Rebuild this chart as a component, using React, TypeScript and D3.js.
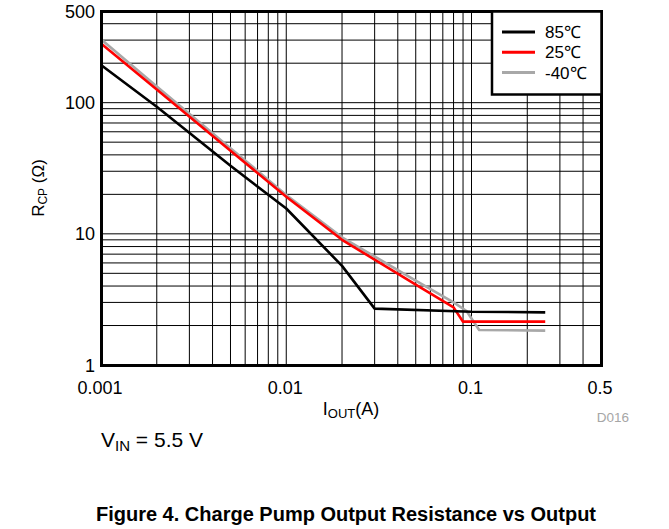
import React, { useEffect } from 'react';
import * as d3 from 'd3';

// 85°C curve
const iOut85 = [0.001, 0.002, 0.005, 0.01, 0.02, 0.03, 0.1, 0.25];
const r85 = [194, 93, 33, 15.6, 5.7, 2.69, 2.55, 2.52];
// 25°C curve
const iOut25 = [0.001, 0.002, 0.005, 0.01, 0.02, 0.05, 0.08, 0.09, 0.25];
const r25 = [283, 126, 43, 19.2, 9.0, 4.1, 2.75, 2.14, 2.14];
// -40°C curve
const iOutM40 = [0.001, 0.002, 0.005, 0.01, 0.02, 0.05, 0.08, 0.094, 0.11, 0.25];
const rM40 = [305, 133, 45, 19.8, 9.4, 4.4, 3.0, 2.58, 1.85, 1.83];

const seriesNames = ['85℃', '25℃', '-40℃'];
const seriesColors = ['#000000', '#ff0000', '#a8a8a8'];
const xTickLabels = [0.001, 0.01, 0.1, 0.5];
const yTickLabels = [1, 10, 100, 500];

const W = 669;
const H = 529;
const plot = { left: 101, right: 601, top: 11, bottom: 365 };
const FONT = 'Liberation Sans, Arial, Helvetica, sans-serif';

export default function App() {
  useEffect(() => {
    document.body.style.margin = '0';
  }, []);

  const x = d3.scaleLog().domain([0.001, 0.5]).range([plot.left, plot.right]);
  const y = d3.scaleLog().domain([1, 500]).range([plot.bottom, plot.top]);

  const xGrid = x.ticks().filter((v) => v > 0.001 && v < 0.5);
  const yGrid = y.ticks().filter((v) => v > 1 && v < 500);

  const line = d3
    .line<[number, number]>()
    .x((d) => x(d[0]))
    .y((d) => y(d[1]));

  const series = [
    d3.zip(iOut85, r85) as [number, number][],
    d3.zip(iOut25, r25) as [number, number][],
    d3.zip(iOutM40, rM40) as [number, number][],
  ];

  const fmt = (v: number) => String(v);

  return (
    <svg width={W} height={H} style={{ display: 'block', background: '#fff' }}>
      {/* grid */}
      <g stroke="#000" strokeWidth={1}>
        {xGrid.map((v) => (
          <line key={'gx' + v} x1={x(v)} x2={x(v)} y1={plot.top} y2={plot.bottom} />
        ))}
        {yGrid.map((v) => (
          <line key={'gy' + v} x1={plot.left} x2={plot.right} y1={y(v)} y2={y(v)} />
        ))}
      </g>

      {/* curves: gray first so red and black sit on top */}
      {[2, 1, 0].map((i) => (
        <path
          key={'s' + i}
          d={line(series[i]) || ''}
          fill="none"
          stroke={seriesColors[i]}
          strokeWidth={2.6}
          strokeLinejoin="round"
        />
      ))}

      {/* frame */}
      <rect
        x={plot.left + 0.5}
        y={plot.top + 0.5}
        width={plot.right - plot.left}
        height={plot.bottom - plot.top}
        fill="none"
        stroke="#000"
        strokeWidth={3}
      />

      {/* legend */}
      <rect x={492} y={plot.top + 0.5} width={plot.right - 491.5} height={83} fill="#fff" stroke="#000" strokeWidth={2.5} />
      {seriesNames.map((name, i) => (
        <g key={name}>
          <line x1={502} x2={535} y1={32 + i * 20.3} y2={32 + i * 20.3} stroke={seriesColors[i]} strokeWidth={3} />
          <text x={545} y={32 + i * 20.3 + 6} fontFamily={FONT} fontSize={17} fill="#000">
            {name}
          </text>
        </g>
      ))}

      {/* y tick labels */}
      {yTickLabels.map((v) => (
        <text key={'yl' + v} x={95} y={y(v) + 6.5} textAnchor="end" fontFamily={FONT} fontSize={18} fill="#000">
          {fmt(v)}
        </text>
      ))}

      {/* x tick labels */}
      {xTickLabels.map((v) => (
        <text key={'xl' + v} x={x(v) - 1} y={394} textAnchor="middle" fontFamily={FONT} fontSize={18} fill="#000">
          {fmt(v)}
        </text>
      ))}

      {/* axis titles */}
      <text x={(plot.left + plot.right) / 2} y={415} textAnchor="middle" fontFamily={FONT} fontSize={18} fill="#000">
        I<tspan fontSize={13} dy={3}>OUT</tspan>
        <tspan dy={-3}>(A)</tspan>
      </text>
      <text
        transform={`translate(44, ${(plot.top + plot.bottom) / 2}) rotate(-90)`}
        textAnchor="middle"
        fontFamily={FONT}
        fontSize={17}
        fill="#000"
      >
        R<tspan fontSize={12} dy={3}>CP</tspan>
        <tspan dy={-3}> (Ω)</tspan>
      </text>

      <text x={629} y={422} textAnchor="end" fontFamily={FONT} fontSize={13.5} fill="#a6a6a6">
        D016
      </text>

      <text x={101} y={447} fontFamily={FONT} fontSize={21} fill="#000">
        V<tspan fontSize={15} dy={4}>IN</tspan>
        <tspan dy={-4}> = 5.5 V</tspan>
      </text>

      <text x={346} y={521} textAnchor="middle" fontFamily={FONT} fontSize={20} fontWeight="bold" fill="#000">
        Figure 4. Charge Pump Output Resistance vs Output
      </text>
    </svg>
  );
}
